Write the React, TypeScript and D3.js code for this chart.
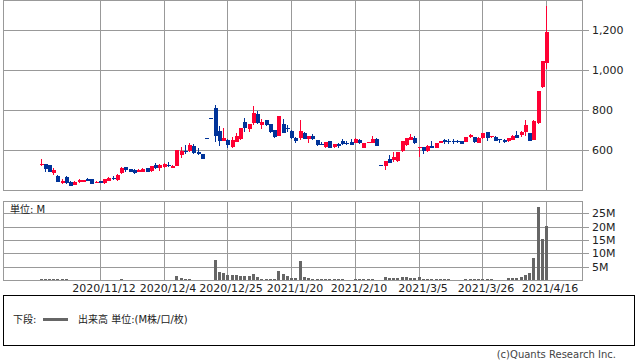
import React from 'react';
import * as d3 from 'd3';

// Trading days (categories)
const oct2020 = [22, 23, 26, 27, 28, 29, 30];
const nov2020 = [2, 4, 5, 6, 9, 10, 11, 12, 13, 16, 17, 18, 19, 20, 24, 25, 26, 27, 30];
const dec2020 = [1, 2, 3, 4, 7, 8, 9, 10, 11, 14, 15, 16, 17, 18, 21, 22, 23, 24, 25, 28, 29, 30];
const jan2021 = [4, 5, 6, 7, 8, 12, 13, 14, 15, 18, 19, 20, 21, 22, 25, 26, 27, 28, 29];
const feb2021 = [1, 2, 3, 4, 5, 8, 9, 10, 12, 15, 16, 17, 18, 19, 22, 24, 25, 26];
const mar2021 = [1, 2, 3, 4, 5, 8, 9, 10, 11, 12, 15, 16, 17, 18, 19, 22, 23, 24, 25, 26, 29, 30, 31];
const apr2021 = [1, 2, 5, 6, 7, 8, 9, 12, 13, 14, 15, 16];

const dates: string[] = [
  ...oct2020.map((d) => `2020/10/${d}`),
  ...nov2020.map((d) => `2020/11/${d}`),
  ...dec2020.map((d) => `2020/12/${d}`),
  ...jan2021.map((d) => `2021/1/${d}`),
  ...feb2021.map((d) => `2021/2/${d}`),
  ...mar2021.map((d) => `2021/3/${d}`),
  ...apr2021.map((d) => `2021/4/${d}`),
];

const opens = [
  525, 528, 525, 483, 472, 435, 465, 442, 427, 442,
  442, 455, 455, 437, 445, 435, 447, 460, 450, 485,
  515, 503, 500, 490, 490, 510, 495, 527, 510, 515,
  527, 510, 522, 575, 597, 597, 622, 592, 580, 658,
  758, 810, 695, 643, 650, 617, 642, 653, 740, 705,
  737, 780, 725, 750, 728, 700, 672, 730, 710, 695,
  662, 662, 687, 653, 670, 650, 632, 617, 645, 617,
  630, 647, 637, 642, 637, 650, 612, 637, 637, 655,
  525, 522, 555, 550, 545, 595, 625, 650, 662, 612,
  617, 597, 622, 612, 637, 650, 645, 645, 645, 645,
  642, 663, 667, 637, 658, 692, 663, 667, 653, 652,
  645, 650, 675, 675, 688, 687, 650, 733, 917, 1037,
];
const highs = [
  555, 530, 527, 508, 475, 455, 470, 445, 445, 453,
  452, 458, 457, 443, 447, 455, 465, 468, 482, 515,
  517, 507, 507, 507, 510, 512, 522, 537, 530, 535,
  538, 525, 602, 615, 625, 635, 630, 608, 580, 658,
  758, 825, 720, 710, 653, 667, 687, 712, 758, 730,
  820, 795, 753, 750, 728, 700, 772, 755, 725, 700,
  667, 750, 690, 670, 680, 650, 640, 642, 645, 630,
  633, 655, 647, 655, 662, 655, 637, 640, 670, 662,
  525, 545, 575, 592, 592, 645, 662, 678, 670, 617,
  617, 625, 645, 637, 645, 655, 653, 655, 650, 645,
  663, 678, 667, 665, 683, 692, 670, 670, 653, 657,
  662, 675, 695, 695, 750, 687, 750, 897, 1045, 1320,
];
const lows = [
  520, 492, 490, 475, 438, 428, 428, 420, 425, 437,
  440, 445, 430, 433, 435, 432, 445, 452, 445, 478,
  492, 490, 482, 488, 488, 488, 490, 507, 495, 512,
  515, 508, 520, 560, 580, 590, 580, 575, 555, 658,
  758, 642, 622, 643, 612, 612, 642, 650, 692, 692,
  725, 728, 705, 720, 687, 658, 670, 687, 692, 653,
  637, 650, 653, 637, 650, 620, 625, 612, 612, 612,
  612, 625, 625, 625, 635, 630, 608, 637, 637, 622,
  525, 500, 533, 538, 538, 592, 622, 650, 630, 567,
  580, 590, 612, 608, 635, 630, 630, 630, 637, 628,
  640, 658, 633, 635, 655, 645, 660, 645, 637, 637,
  642, 650, 658, 667, 672, 647, 650, 730, 908, 1003,
];
const closes = [
  530, 505, 492, 502, 442, 447, 435, 422, 442, 448,
  450, 447, 432, 442, 437, 453, 462, 458, 475, 510,
  498, 492, 485, 502, 505, 490, 520, 510, 527, 528,
  525, 522, 598, 597, 590, 625, 587, 580, 555, 658,
  758, 672, 647, 660, 625, 650, 670, 710, 712, 730,
  785, 737, 740, 725, 692, 667, 770, 687, 708, 662,
  645, 695, 653, 670, 653, 625, 630, 642, 612, 628,
  620, 630, 635, 625, 655, 637, 637, 640, 653, 622,
  525, 545, 533, 563, 592, 645, 662, 667, 637, 617,
  597, 622, 612, 637, 645, 642, 642, 642, 642, 630,
  663, 675, 642, 662, 683, 662, 670, 645, 650, 642,
  662, 670, 658, 692, 725, 647, 747, 897, 1045, 1190,
];
// Volume in millions
const volumes = [
  0.5, 0.4, 0.4, 0.4, 0.5, 0.4, 0.5, 0.1, 0.1, 0.1,
  0.1, 0.1, 0.1, 0.1, 0.1, 0.1, 0.1, 0.1, 0.1, 0.4,
  0.1, 0.1, 0.1, 0.1, 0.1, 0.1, 0.1, 0.1, 0.1, 0.1,
  0.1, 0.1, 1.5, 0.9, 0.5, 0.5, 0.1, 0.1, 0.1, 0,
  0, 7.5, 3.0, 2.7, 1.9, 2.0, 1.7, 1.5, 1.6, 1.5,
  2.2, 1.2, 0.5, 0.4, 0.5, 0.5, 3.4, 2.4, 1.5, 0.9,
  0.6, 7.2, 1.0, 0.6, 0.5, 0.4, 0.4, 0.4, 0.4, 0.4,
  0.4, 0.4, 0.1, 0.1, 0.4, 0.4, 0.4, 0.4, 0.4, 0.1,
  0, 1.2, 0.7, 0.7, 0.6, 1.2, 1.2, 0.8, 0.6, 1.2,
  0.4, 0.4, 0.4, 0.4, 0.4, 0.4, 0.4, 0.1, 0.1, 0.1,
  0.4, 0.4, 0.4, 0.4, 0.4, 0.4, 0.4, 0.1, 0.1, 0.1,
  0.6, 0.7, 0.7, 1.0, 1.9, 2.7, 8.3, 27.2, 15.4, 20.2,
];

const xTickLabels = ['2020/11/12', '2020/12/4', '2020/12/25', '2021/1/20', '2021/2/10', '2021/3/5', '2021/3/26', '2021/4/16'];
const priceTicks = [600, 800, 1000, 1200];
const volumeTicks = [5, 10, 15, 20, 25];

const RED = '#ff0033';
const BLUE = '#003399';
const GRID = '#999999';
const FONT = '"DejaVu Sans", "Noto Sans CJK JP", sans-serif';

export default function App() {
  const W = 638;
  const H = 362;
  const left = 3.5;
  const right = 582.5;

  const x = d3.scalePoint<string>().domain(dates).range([40.5, 546]);
  const y = d3.scaleLinear().domain([400, 1350]).range([190, 0]);
  const yv = d3.scaleLinear().domain([0, 29.6]).range([280, 201]);

  const px = (d: string) => Math.round(x(d) as number);
  const fmt = d3.format(',');

  return (
    <svg
      width={W}
      height={H}
      viewBox={`0 0 ${W} ${H}`}
      style={{ position: 'absolute', left: 0, top: 0, background: '#fff' }}
      fontFamily={FONT}
    >
      <rect x={0} y={0} width={W} height={H} fill="#fff" />

      {/* Price panel grid */}
      <g shapeRendering="crispEdges" stroke={GRID} strokeWidth={1}>
        {priceTicks.map((t) => (
          <line key={`pg${t}`} x1={left} x2={right + 6} y1={Math.round(y(t)) + 0.5} y2={Math.round(y(t)) + 0.5} />
        ))}
        {xTickLabels.map((d) => (
          <line key={`pv${d}`} x1={px(d) + 0.5} x2={px(d) + 0.5} y1={0.5} y2={190.5} />
        ))}
        <rect x={left} y={0.5} width={right - left} height={190} fill="none" />
      </g>

      {/* Volume panel grid */}
      <g shapeRendering="crispEdges" stroke={GRID} strokeWidth={1}>
        {volumeTicks.map((t) => (
          <line key={`vg${t}`} x1={left} x2={right + 6} y1={Math.round(yv(t)) + 0.5} y2={Math.round(yv(t)) + 0.5} />
        ))}
        {xTickLabels.map((d) => (
          <line key={`vv${d}`} x1={px(d) + 0.5} x2={px(d) + 0.5} y1={201.5} y2={280.5} />
        ))}
        <rect x={left} y={201.5} width={right - left} height={79} fill="none" />
      </g>

      {/* Candles */}
      <g shapeRendering="crispEdges">
        {dates.map((d, i) => {
          const o = opens[i];
          const c = closes[i];
          const color = c > o ? RED : BLUE;
          const cx = px(d);
          const top = Math.round(y(Math.max(o, c)));
          const bot = Math.round(y(Math.min(o, c)));
          return (
            <g key={`c${i}`}>
              <rect x={cx} y={Math.round(y(highs[i]))} width={1} height={Math.max(1, Math.round(y(lows[i])) - Math.round(y(highs[i])))} fill={color} />
              <rect x={cx - 1} y={top} width={4} height={Math.max(1, bot - top)} fill={color} />
            </g>
          );
        })}
      </g>

      {/* Volume bars */}
      <g shapeRendering="crispEdges" fill="#666666">
        {dates.map((d, i) =>
          volumes[i] > 0 ? (
            <rect key={`v${i}`} x={px(d) - 1} y={yv(volumes[i])} width={3} height={280 - yv(volumes[i])} />
          ) : null
        )}
      </g>

      {/* Axis labels */}
      <g fontSize={11} fill="#222">
        {priceTicks.map((t) => (
          <text key={`pl${t}`} x={592} y={y(t)} dy="0.36em">
            {fmt(t)}
          </text>
        ))}
        {volumeTicks.map((t) => (
          <text key={`vl${t}`} x={592} y={yv(t)} dy="0.36em">
            {`${t}M`}
          </text>
        ))}
        {xTickLabels.map((d) => (
          <text key={`xl${d}`} x={px(d) + 4} y={292} textAnchor="middle">
            {d}
          </text>
        ))}
      </g>

      <text x={10} y={213} fontSize={10} fill="#222">単位: M</text>

      {/* Legend box */}
      <rect x={3.5} y={295.5} width={631} height={50} fill="none" stroke="#000" strokeWidth={1} shapeRendering="crispEdges" />
      <text x={13} y={323} fontSize={10} fill="#222">下段:</text>
      <line x1={43} x2={68} y1={319.5} y2={319.5} stroke="#666" strokeWidth={3} />
      <text x={78} y={323} fontSize={10} fill="#222">出来高 単位:(M株/口/枚)</text>

      <text x={616} y={358} fontSize={10} fill="#444" textAnchor="end">(c)Quants Research Inc.</text>
    </svg>
  );
}
